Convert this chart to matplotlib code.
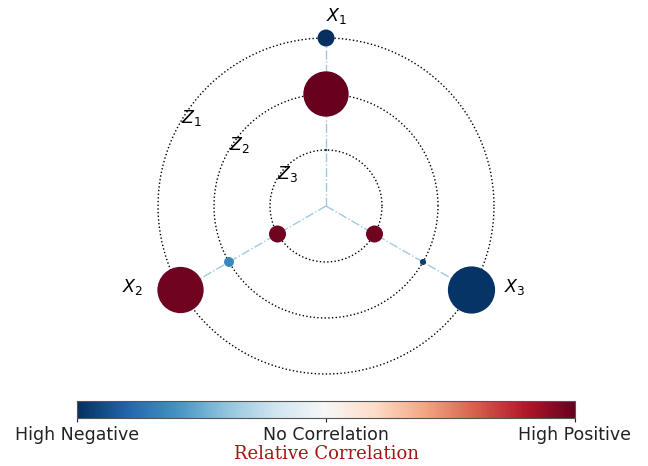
import numpy as np
import matplotlib
matplotlib.use("Agg")
import matplotlib.pyplot as plt
from matplotlib import cm, colors

# Variables (spokes) and latent levels (rings)
variables = ["$X_1$", "$X_2$", "$X_3$"]
levels = ["$Z_1$", "$Z_2$", "$Z_3$"]

# Correlation of each variable with each level (rows: variables, cols: Z1..Z3)
correlation = np.array([
    [-1.00,  1.00, -0.95],
    [ 0.97, -0.65,  0.97],
    [-0.98, -0.95,  0.97],
])
# Relative strength shown by bubble size
strength = np.array([
    [0.36, 0.96, 0.05],
    [0.98, 0.21, 0.36],
    [1.00, 0.13, 0.36],
])

cbar_ticklabels = ["High Negative", "No Correlation", "High Positive"]
cbar_title = "Relative Correlation"

# Layout
W, H, DPI = 648, 466, 100
px_per_unit = 56.0
cx_px, cy_px = 326.0, 206.0           # centre in pixels from top-left
spoke_angles = np.deg2rad([90, 210, -30])
ring_radii = [3.0, 2.0, 1.0]         # Z1 outermost

fig = plt.figure(figsize=(W / DPI, H / DPI), dpi=DPI)
ax = fig.add_axes([0, 0, 1, 1])
ax.set_xlim(-cx_px / px_per_unit, (W - cx_px) / px_per_unit)
ax.set_ylim(-(H - cy_px) / px_per_unit, cy_px / px_per_unit)
ax.axis("off")

cmap = matplotlib.colormaps["RdBu_r"]
norm = colors.Normalize(vmin=-1, vmax=1)

# Rings
t = np.linspace(0, 2 * np.pi, 600)
for r in ring_radii:
    ax.plot(r * np.cos(t), r * np.sin(t), ls=":", color="black", lw=1.0, zorder=1)

# Spokes
for a in spoke_angles:
    ax.plot([0, ring_radii[0] * np.cos(a)], [0, ring_radii[0] * np.sin(a)],
            ls="-.", color="#9ecae1", lw=1.0, zorder=2)

# Bubbles
xs, ys, cs, ss = [], [], [], []
for i, a in enumerate(spoke_angles):
    for j, r in enumerate(ring_radii):
        xs.append(r * np.cos(a))
        ys.append(r * np.sin(a))
        cs.append(correlation[i, j])
        ss.append((strength[i, j] * 34.0) ** 2)
ax.scatter(xs, ys, s=ss, c=cs, cmap=cmap, norm=norm, edgecolors="none", zorder=3)

# Variable labels
label_offsets = [(0.19, 0.40), (-0.85, 0.05), (0.78, 0.05)]
for name, a, (dx, dy) in zip(variables, spoke_angles, label_offsets):
    x0 = ring_radii[0] * np.cos(a)
    y0 = ring_radii[0] * np.sin(a)
    ax.text(x0 + dx, y0 + dy, name, ha="center", va="center", fontsize=12.5)

# Ring labels
ring_label_pos = [(2.87, 147), (1.89, 145), (0.89, 140)]
for name, (rr, ang) in zip(levels, ring_label_pos):
    a = np.deg2rad(ang)
    ax.text(rr * np.cos(a), rr * np.sin(a), name, ha="center", va="center", fontsize=12.5)

# Colour bar
cax = fig.add_axes([77 / W, 1 - 418 / H, (575 - 77) / W, 17 / H])
sm = cm.ScalarMappable(norm=norm, cmap=cmap)
cb = fig.colorbar(sm, cax=cax, orientation="horizontal", ticks=[-1, 0, 1])
cb.set_ticklabels(cbar_ticklabels)
cb.ax.tick_params(labelsize=12.5, length=3, pad=2.5, colors="#222222")
cb.outline.set_edgecolor("#555555")
cb.outline.set_linewidth(0.8)
cb.set_label(cbar_title, fontsize=13, family="DejaVu Serif", color="#a31515", labelpad=1)

fig.savefig("out.png", dpi=DPI)
